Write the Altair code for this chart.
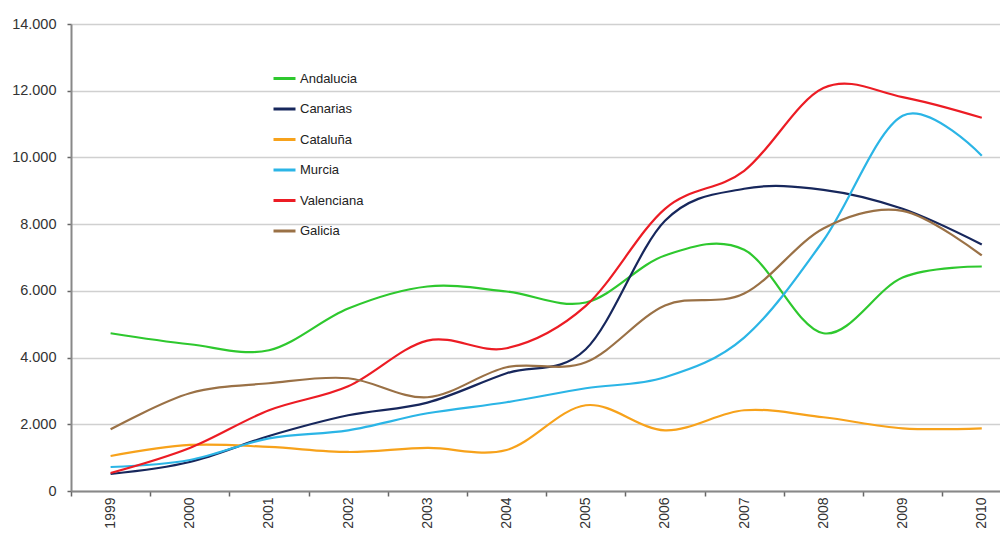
import altair as alt
import pandas as pd

years = list(range(1999, 2011))
series_names = ["Andalucia", "Canarias", "Cataluña", "Murcia", "Valenciana", "Galicia"]
series_colors = ["#2ec82e", "#17275c", "#f7a21b", "#2bb5e6", "#ec1c24", "#9a7146"]

andalucia = [4730, 4400, 4220, 5470, 6130, 5980, 5650, 7060, 7230, 4730, 6400, 6730]
canarias = [510, 870, 1650, 2270, 2650, 3530, 4250, 8100, 9060, 9030, 8460, 7390]
cataluna = [1050, 1380, 1320, 1170, 1290, 1230, 2570, 1820, 2420, 2210, 1880, 1880]
murcia = [720, 930, 1580, 1820, 2330, 2660, 3080, 3410, 4600, 7510, 11250, 10050]
valenciana = [540, 1290, 2420, 3140, 4510, 4280, 5550, 8460, 9600, 12080, 11810, 11190]
galicia = [1850, 2930, 3230, 3380, 2810, 3710, 3860, 5560, 5920, 7870, 8400, 7060]

y_ticks = [0, 2000, 4000, 6000, 8000, 10000, 12000, 14000]
x_tick_positions = [y - 0.5 for y in years]

all_values = [andalucia, canarias, cataluna, murcia, valenciana, galicia]
rows = []
for name, vals in zip(series_names, all_values):
    for yr, v in zip(years, vals):
        rows.append({"year": yr, "value": v, "region": name, "order": series_names.index(name)})
df = pd.DataFrame(rows)

font = "Liberation Sans"

chart = alt.Chart(df).mark_line(interpolate="cardinal", strokeWidth=2.2).encode(
    x=alt.X(
        "year:Q",
        scale=alt.Scale(domain=[1998.5, 2010.23], nice=False, zero=False),
        axis=alt.Axis(
            values=x_tick_positions,
            labelExpr="format(datum.value + 0.5, 'd')",
            labelOffset=39.6,
            labelAngle=-90,
            labelAlign="right",
            labelBaseline="middle",
            labelFontSize=14,
            labelColor="#333333",
            labelFont=font,
            labelPadding=1,
            tickSize=5,
            tickColor="#666666",
            tickWidth=1.5,
            domainColor="#888888",
            domainWidth=2,
            grid=False,
            title=None,
            labelOverlap=False,
        ),
    ),
    y=alt.Y(
        "value:Q",
        scale=alt.Scale(domain=[0, 14000], nice=False),
        axis=alt.Axis(
            values=y_ticks,
            labelExpr="replace(format(datum.value, ','), ',', '.')",
            labelFontSize=14.5,
            labelColor="#333333",
            labelFont=font,
            labelPadding=11,
            tickSize=4,
            tickColor="#666666",
            tickWidth=1.5,
            domainColor="#888888",
            domainWidth=2,
            gridColor="#d0d0d0",
            gridWidth=1.3,
            title=None,
        ),
    ),
    color=alt.Color(
        "region:N",
        scale=alt.Scale(domain=series_names, range=series_colors),
        legend=alt.Legend(
            title=None,
            orient="none",
            legendX=201,
            legendY=42,
            symbolType="stroke",
            symbolSize=484,
            symbolStrokeWidth=3,
            labelFontSize=13,
            labelFont=font,
            labelColor="#222222",
            labelOffset=3,
            rowPadding=10.5,
            padding=0,
        ),
    ),
    order=alt.Order("order:Q"),
).properties(
    width=992,
    height=521,
    autosize=alt.AutoSizeParams(type="fit", contains="padding"),
    padding={"left": 3, "top": 8, "right": 0, "bottom": 0},
).configure_view(stroke=None)

chart.save("out.html", embed_options={"renderer": "svg", "actions": False})
